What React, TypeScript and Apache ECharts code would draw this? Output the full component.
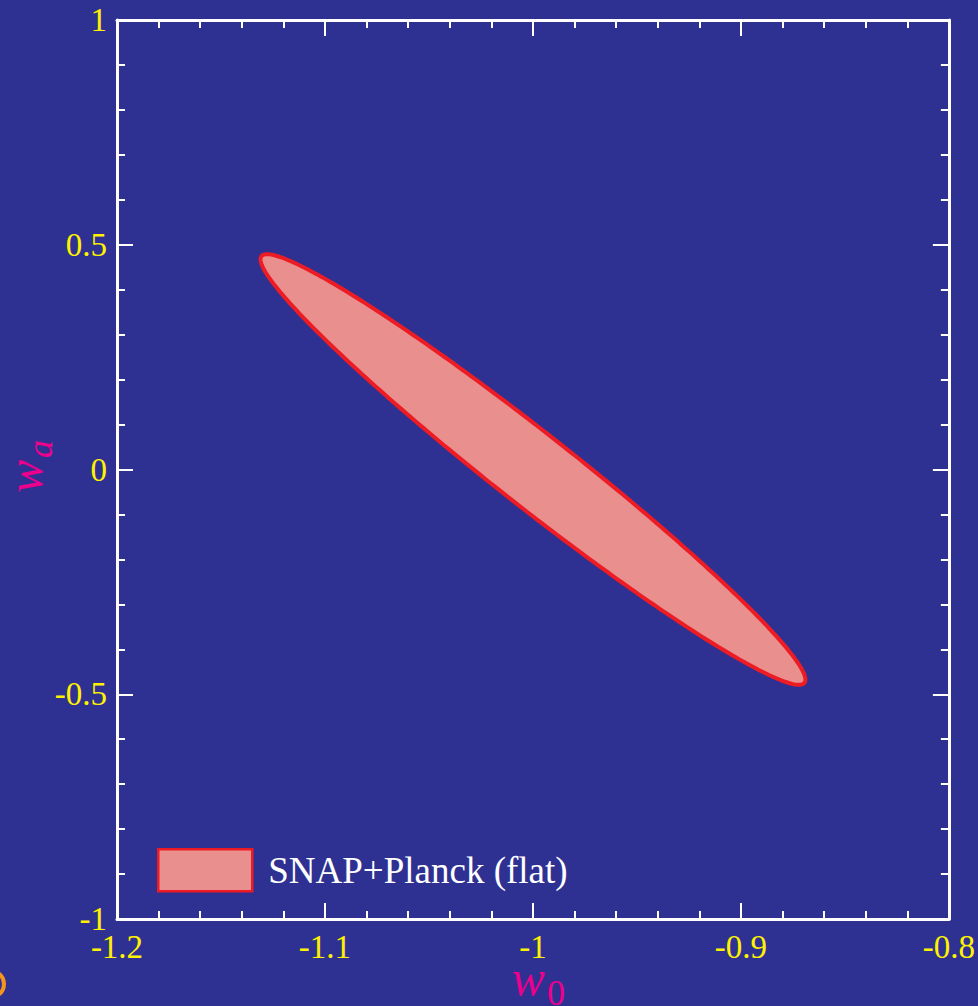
import React, { useEffect, useRef } from "react";
import * as echarts from "echarts";

// Axis ranges and tick labels
const X_TICKS = [-1.2, -1.1, -1, -0.9, -0.8];
const X_TICK_LABELS = ["-1.2", "-1.1", "-1", "-0.9", "-0.8"];
const Y_TICKS = [-1, -0.5, 0, 0.5, 1];
const Y_TICK_LABELS = ["-1", "-0.5", "0", "0.5", "1"];

// Confidence contour: centre, half-extents in w0 and wa, and their correlation
const SERIES_NAME = "SNAP+Planck (flat)";
const ELLIPSE_CENTER = [-1, 0];
const ELLIPSE_HALF_EXTENT = [0.131, 0.479];
const ELLIPSE_CORRELATION = [-0.976];

const BG = "#2E3192";
const FRAME = "#FFFFFF";
const LABEL_YELLOW = "#FFF200";
const TITLE_MAGENTA = "#EC008C";
const FILL = "#E98F8D";
const STROKE = "#ED1C24";
const SERIF = "Liberation Serif";

function labelFor(ticks: number[], labels: string[]) {
  return (v: number) => {
    const i = ticks.findIndex((t) => Math.abs(t - v) < 1e-9);
    return i >= 0 ? labels[i] : "";
  };
}

// Italic symbol with a lowered subscript; local origin is the baseline start
function symbolWithSub(main: string, sub: string, subItalic: boolean) {
  return [
    {
      type: "text",
      x: 0,
      y: -17,
      style: {
        text: main,
        fill: TITLE_MAGENTA,
        fontFamily: SERIF,
        fontSize: 50,
        fontStyle: "italic",
        align: "left",
        verticalAlign: "middle",
      },
    },
    {
      type: "text",
      x: 35,
      y: -2,
      style: {
        text: sub,
        fill: TITLE_MAGENTA,
        fontFamily: SERIF,
        fontSize: 36,
        fontStyle: subItalic ? "italic" : "normal",
        align: "left",
        verticalAlign: "middle",
      },
    },
  ];
}

export default function App() {
  const ref = useRef<HTMLDivElement>(null);

  useEffect(() => {
    if (!ref.current) return;
    const chart = echarts.init(ref.current, undefined, { renderer: "svg" });

    const axisLine = { show: true, onZero: false, lineStyle: { color: FRAME, width: 3 } };
    const axisTick = { show: true, inside: true, length: 16, lineStyle: { color: FRAME, width: 2 } };
    const minorTick = { show: true, splitNumber: 5, length: 8, lineStyle: { color: FRAME, width: 2 } };
    const labelStyle = { color: LABEL_YELLOW, fontFamily: SERIF, fontSize: 33 };

    const xBase = {
      type: "value",
      min: X_TICKS[0],
      max: X_TICKS[X_TICKS.length - 1],
      interval: 0.1,
      axisLine,
      axisTick,
      minorTick,
      splitLine: { show: false },
    };
    const yBase = {
      type: "value",
      min: Y_TICKS[0],
      max: Y_TICKS[Y_TICKS.length - 1],
      interval: 0.5,
      axisLine,
      axisTick,
      minorTick,
      splitLine: { show: false },
    };

    const [cx, cy] = ELLIPSE_CENTER;
    const [sx, sy] = ELLIPSE_HALF_EXTENT;
    const rho = ELLIPSE_CORRELATION[0];

    chart.setOption({
      animation: false,
      backgroundColor: BG,
      textStyle: { fontFamily: SERIF },
      grid: { left: 117, top: 20, right: 29, bottom: 87, containLabel: false },
      xAxis: [
        {
          ...xBase,
          position: "bottom",
          axisLabel: {
            ...labelStyle,
            margin: 11,
            formatter: labelFor(X_TICKS, X_TICK_LABELS),
          },
        },
        { ...xBase, position: "top", axisLabel: { show: false } },
      ],
      yAxis: [
        {
          ...yBase,
          position: "left",
          axisLabel: {
            ...labelStyle,
            margin: 10,
            formatter: labelFor(Y_TICKS, Y_TICK_LABELS),
          },
        },
        { ...yBase, position: "right", axisLabel: { show: false } },
      ],
      legend: {
        show: true,
        data: [SERIES_NAME],
        left: 157,
        top: 848,
        padding: 0,
        icon: "rect",
        itemWidth: 94,
        itemHeight: 42,
        itemStyle: { color: FILL, borderColor: STROKE, borderWidth: 2.5 },
        textStyle: {
          color: "#FFFFFF",
          fontFamily: SERIF,
          fontSize: 37,
          padding: [0, 0, 0, 11],
        },
        selectedMode: false,
      },
      series: [
        {
          name: SERIES_NAME,
          type: "custom",
          xAxisIndex: 0,
          yAxisIndex: 0,
          itemStyle: { color: FILL, borderColor: STROKE, borderWidth: 2.5 },
          data: [[cx, cy]],
          renderItem: (_params: any, api: any) => {
            const points: number[][] = [];
            const n = 360;
            const k = Math.sqrt(1 - rho * rho);
            for (let i = 0; i < n; i++) {
              const t = (2 * Math.PI * i) / n;
              const w0 = cx + sx * Math.cos(t);
              const wa = cy + sy * (rho * Math.cos(t) + k * Math.sin(t));
              points.push(api.coord([w0, wa]));
            }
            return {
              type: "polygon",
              shape: { points },
              style: { fill: FILL, stroke: STROKE, lineWidth: 4 },
            };
          },
        },
      ],
      graphic: [
        // x-axis title: w_0
        { type: "group", x: 512, y: 995, children: symbolWithSub("w", "0", false) },
        // y-axis title: w_a, reading bottom to top
        {
          type: "group",
          x: 42,
          y: 493,
          rotation: Math.PI / 2,
          children: symbolWithSub("w", "a", true),
        },
        // corner emblem edge
        {
          type: "circle",
          shape: { cx: -9, cy: 984, r: 13 },
          style: { fill: "none", stroke: "#F7941D", lineWidth: 4 },
        },
      ],
    });

    return () => chart.dispose();
  }, []);

  return (
    <div
      ref={ref}
      style={{ position: "fixed", left: 0, top: 0, width: 978, height: 1006 }}
    />
  );
}
